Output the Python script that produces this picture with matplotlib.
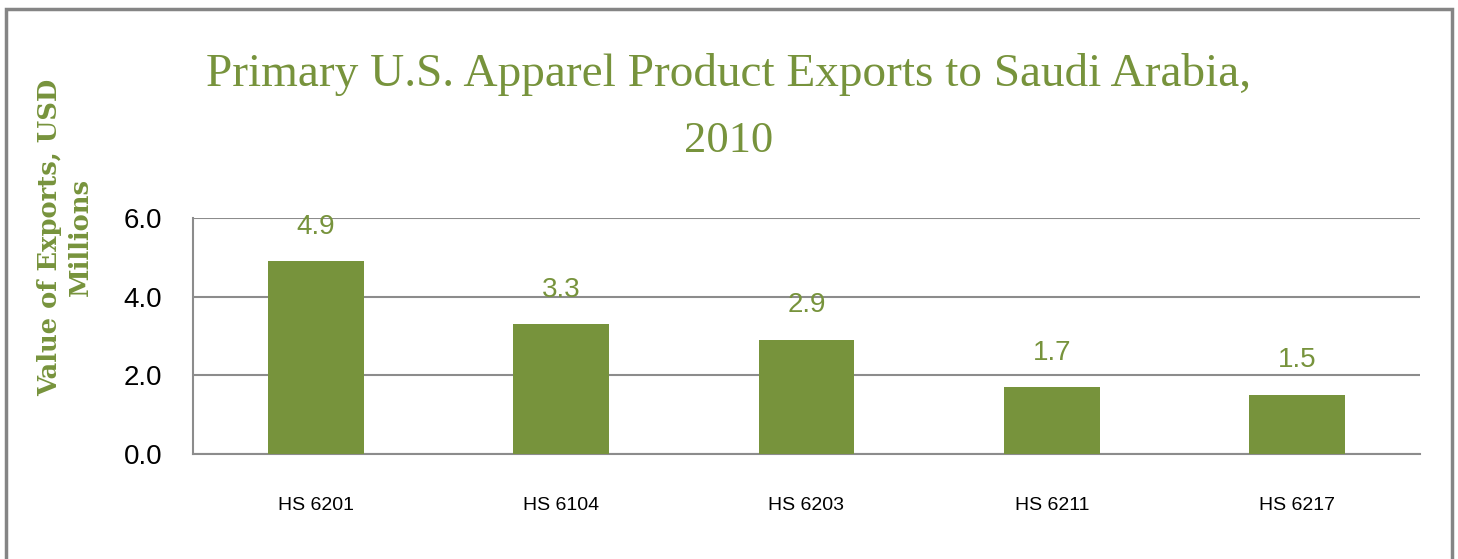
import matplotlib
matplotlib.use("Agg")
import matplotlib.pyplot as plt
from matplotlib.patches import Rectangle

categories = ["HS 6201", "HS 6104", "HS 6203", "HS 6211", "HS 6217"]
values = [4.9, 3.3, 2.9, 1.7, 1.5]
yticks = [0.0, 2.0, 4.0, 6.0]

GREEN = "#77933C"
GRID = "#8C8C8C"
SANS = ["Liberation Sans", "DejaVu Sans"]
SERIF = ["Liberation Serif", "DejaVu Serif"]

fig = plt.figure(figsize=(14.58, 5.59), dpi=100)

# outer chart frame (bottom edge runs off the canvas)
fig.patches.append(Rectangle((6 / 1458, -0.05), 1446 / 1458, 1 - 9 / 559 + 0.05,
                             transform=fig.transFigure, fill=False,
                             edgecolor="#858585", linewidth=2.5))

ax = fig.add_axes([193 / 1458, 1 - 454 / 559, 1227 / 1458, 236 / 559])
x = range(len(categories))
bars = ax.bar(x, values, width=0.39, color=GREEN, zorder=3)
ax.set_xlim(-0.5, len(categories) - 0.5)
ax.set_ylim(0, 6)
ax.set_yticks(yticks)
ax.set_yticklabels([f"{v:.1f}" for v in yticks], family=SANS, fontsize=20)
ax.set_xticks(list(x))
ax.set_xticklabels(categories, family=SANS, fontsize=14)
ax.tick_params(axis="both", length=0)
ax.tick_params(axis="y", pad=22)
ax.tick_params(axis="x", pad=31)
ax.grid(axis="y", color=GRID, linewidth=1.5, zorder=0)
for s in ["top", "right"]:
    ax.spines[s].set_visible(False)
for s in ["left", "bottom"]:
    ax.spines[s].set_color(GRID)
    ax.spines[s].set_linewidth(1.5)

for b, v in zip(bars, values):
    ax.text(b.get_x() + b.get_width() / 2, v + 0.55, f"{v:.1f}", ha="center",
            va="bottom", color=GREEN, family=SANS, fontsize=20)

fig.text(729 / 1458, 1 - 74 / 559, "Primary U.S. Apparel Product Exports to Saudi Arabia,",
         ha="center", va="center", color=GREEN, family=SERIF, fontsize=34)
fig.text(729 / 1458, 1 - 141 / 559, "2010",
         ha="center", va="center", color=GREEN, family=SERIF, fontsize=32)

fig.text(50 / 1458, 1 - 237 / 559, "Value of Exports, USD", rotation=90,
         ha="center", va="center", color=GREEN, family=["DejaVu Serif"],
         fontsize=18.5, fontweight="bold")
fig.text(80 / 1458, 1 - 237 / 559, "Millions", rotation=90,
         ha="center", va="center", color=GREEN, family=["DejaVu Serif"],
         fontsize=18.5, fontweight="bold")

fig.savefig("out.png", dpi=100, facecolor="white")
